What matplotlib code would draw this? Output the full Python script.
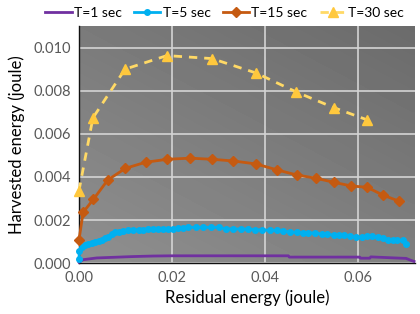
import matplotlib
matplotlib.use("Agg")
import matplotlib.pyplot as plt
import numpy as np

plt.rcParams['font.family'] = ['Lato', 'DejaVu Sans']

# T=1 sec (purple)
t1_x = [0.0, 0.0009, 0.0038, 0.0074, 0.011, 0.0125, 0.016, 0.02, 0.03, 0.045, 0.0452, 0.0603, 0.0605, 0.0625, 0.0627, 0.068, 0.0703, 0.0712, 0.072]
t1_y = [0.00004, 0.00016, 0.00024, 0.00027, 0.00030, 0.00031, 0.00033, 0.00034, 0.00034, 0.00034, 0.00028, 0.00028, 0.00023, 0.00023, 0.00029, 0.00024, 0.00022, 0.00014, 0.00008]

# T=5 sec (blue)
t5_x = [0.0, 0.0001, 0.0006, 0.0013, 0.0020, 0.0027, 0.0034, 0.0042, 0.0049, 0.0056, 0.0063,
        0.0070, 0.0077, 0.0087, 0.0095, 0.0106, 0.0117, 0.0128, 0.0138, 0.0149, 0.0160,
        0.0170, 0.0181, 0.0192, 0.0203, 0.0213, 0.0224, 0.0235, 0.0252, 0.0267, 0.0284,
        0.0300, 0.0315, 0.0332, 0.0348, 0.0364, 0.0378, 0.0394, 0.0411, 0.0425, 0.0439,
        0.0454, 0.0468, 0.0481, 0.0493, 0.0508, 0.0522, 0.0534, 0.0547, 0.0558, 0.0570,
        0.0583, 0.0596, 0.0608, 0.0619, 0.0630, 0.0642, 0.0653, 0.0663, 0.0675, 0.0684,
        0.0696, 0.0703]
t5_y = [0.00020, 0.00058, 0.00073, 0.00084, 0.00089, 0.00094, 0.00100, 0.00104, 0.00109, 0.00115, 0.00119,
        0.00135, 0.00143, 0.00146, 0.00149, 0.00152, 0.00154, 0.00155, 0.00156, 0.00158, 0.00158,
        0.00159, 0.00159, 0.00160, 0.00160, 0.00161, 0.00161, 0.00166, 0.00166, 0.00166, 0.00166,
        0.00166, 0.00159, 0.00159, 0.00158, 0.00158, 0.00155, 0.00155, 0.00152, 0.00152, 0.00149,
        0.00144, 0.00143, 0.00140, 0.00140, 0.00140, 0.00135, 0.00135, 0.00130, 0.00130, 0.00130,
        0.00124, 0.00123, 0.00119, 0.00124, 0.00124, 0.00119, 0.00115, 0.00109, 0.00106, 0.00106,
        0.00106, 0.00087]

# T=15 sec (orange)
t15_x = [0.0, 0.0009, 0.0031, 0.0062, 0.0100, 0.0143, 0.0190, 0.0239, 0.0285, 0.0332, 0.0381,
         0.0425, 0.0468, 0.0509, 0.0548, 0.0585, 0.0619, 0.0653, 0.0687]
t15_y = [0.00107, 0.00236, 0.00296, 0.00386, 0.00440, 0.00468, 0.00482, 0.00487, 0.00482, 0.00474, 0.00460,
         0.00433, 0.00409, 0.00394, 0.00375, 0.00358, 0.00352, 0.00316, 0.00288]

# T=30 sec (yellow)
t30_x = [0.0, 0.0030, 0.0099, 0.0189, 0.0286, 0.0381, 0.0467, 0.0547, 0.0619]
t30_y = [0.00336, 0.00674, 0.00900, 0.00963, 0.00949, 0.00882, 0.00794, 0.00722, 0.00665]

labels = ['T=1 sec', 'T=5 sec', 'T=15 sec', 'T=30 sec']
xticks = [0.00, 0.02, 0.04, 0.06]
yticks = [0.000, 0.002, 0.004, 0.006, 0.008, 0.010]

fig = plt.figure(figsize=(4.2, 3.14), dpi=100)
ax = fig.add_axes([0.188, 0.162, 0.8, 0.755])

xmax, ymax = 0.0722, 0.011
# gradient background
gx = np.linspace(0, 1, 64)
gy = np.linspace(0, 1, 64)
GX, GY = np.meshgrid(gx, gy)
G = 0.56 - 0.06 * GX - 0.08 * GY
ax.imshow(G, extent=[0, xmax, ymax, 0], origin='upper', cmap='gray', vmin=0, vmax=1,
          aspect='auto', zorder=0, interpolation='bilinear')
ax.set_xlim(0, xmax)
ax.set_ylim(0, ymax)

ax.set_xticks(xticks)
ax.set_yticks(yticks)
ax.set_xticklabels([f'{v:.2f}' for v in xticks])
ax.set_yticklabels([f'{v:.3f}' for v in yticks])
ax.grid(True, color='#d4d4d4', linewidth=1.2, zorder=1)
ax.set_axisbelow(True)
ax.tick_params(length=0, labelsize=10.5, labelcolor='#595959', pad=6)

for s in ['top', 'right']:
    ax.spines[s].set_visible(False)
for s in ['left', 'bottom']:
    ax.spines[s].set_color('#111111')
    ax.spines[s].set_linewidth(1.0)
    ax.spines[s].set_zorder(2.5)

ax.plot(t1_x, t1_y, color='#7030A0', lw=2, label=labels[0], zorder=3, clip_on=False)
ax.plot(t5_x, t5_y, color='#00B0F0', lw=2, marker='o', ms=4, label=labels[1], zorder=4, clip_on=False)
ax.plot(t15_x, t15_y, color='#C55A11', lw=2, marker='D', ms=5, label=labels[2], zorder=5, clip_on=False)
ax.plot(t30_x, t30_y, color='#FFD966', lw=2, ls=(0, (3, 2.5)), marker='^', ms=7,
        mfc='#FFC83D', mec='#FFC83D', label=labels[3], zorder=6, clip_on=False)

ax.set_xlabel('Residual energy (joule)', fontsize=12, labelpad=3)
ax.set_ylabel('Harvested energy (joule)', fontsize=12, labelpad=6)

fig.legend(loc='upper center', bbox_to_anchor=(0.535, 1.005), ncol=4, frameon=False,
           fontsize=10, handlelength=1.9, handletextpad=0.15, columnspacing=0.9,
           borderaxespad=0.2)

fig.savefig('out.png', dpi=100)
